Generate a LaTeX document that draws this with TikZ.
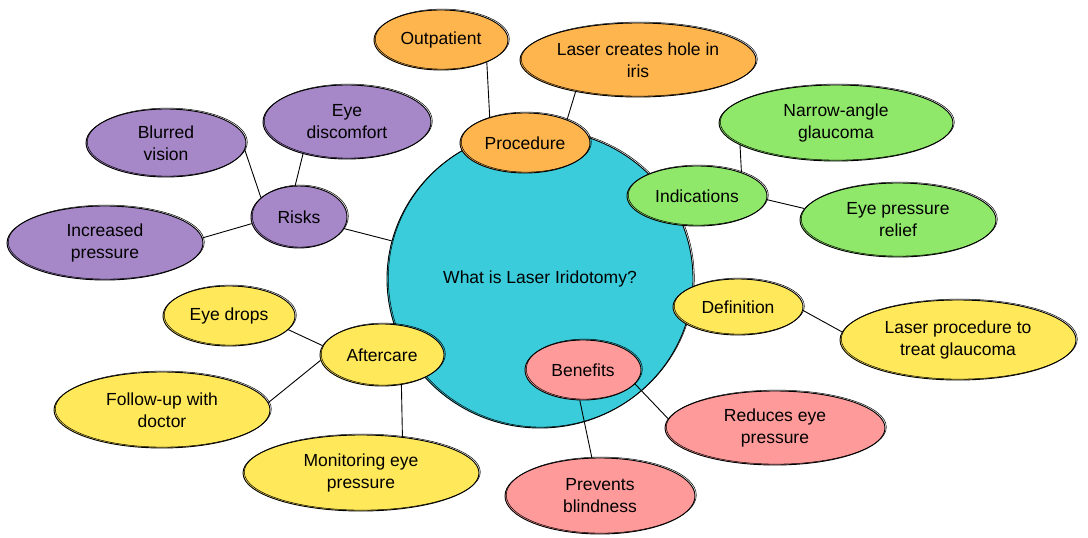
\documentclass[tikz,border=0pt]{standalone}
\usepackage{fontspec}
\setmainfont{Liberation Sans}
\usetikzlibrary{shapes.geometric}
\definecolor{cyanF}{HTML}{3ACCDB}
\definecolor{orangeF}{HTML}{FFB54D}
\definecolor{purpleF}{HTML}{A687C7}
\definecolor{greenF}{HTML}{8FE86A}
\definecolor{yellowF}{HTML}{FFE859}
\definecolor{pinkF}{HTML}{FF9A9A}
\begin{document}
\begin{tikzpicture}[x=1pt,y=-1pt,
  bub/.style={ellipse, draw=black, line width=0.9pt, inner sep=0pt, align=center,
    font=\fontsize{17.5}{22}\selectfont,
    postaction={draw=black, line width=0.5pt, transform canvas={xshift=1.3pt,yshift=0.9pt}}},
  conn/.style={draw=black, line width=0.9pt}]
\useasboundingbox (0,0) rectangle (1088,538);

\node[bub, fill=cyanF, minimum width=306pt, minimum height=298pt] (c) at (540,279) {What is Laser Iridotomy?};

\node[bub, fill=orangeF, minimum width=130pt, minimum height=60pt] (proc) at (525,143) {Procedure};
\node[bub, fill=orangeF, minimum width=134pt, minimum height=60pt] (outp) at (441,40) {Outpatient};
\node[bub, fill=orangeF, minimum width=236pt, minimum height=74pt] (hole) at (638,60) {Laser creates hole in\\iris};

\node[bub, fill=greenF, minimum width=140pt, minimum height=60pt] (ind) at (697,196) {Indications};
\node[bub, fill=greenF, minimum width=234pt, minimum height=76pt] (narrow) at (836,123) {Narrow-angle\\glaucoma};
\node[bub, fill=greenF, minimum width=196pt, minimum height=74pt] (relief) at (898,220) {Eye pressure\\relief};

\node[bub, fill=yellowF, minimum width=130pt, minimum height=56pt] (def) at (738,307) {Definition};
\node[bub, fill=yellowF, minimum width=236pt, minimum height=80pt] (lproc) at (958,340) {Laser procedure to\\treat glaucoma};

\node[bub, fill=pinkF, minimum width=116pt, minimum height=60pt] (ben) at (583,370) {Benefits};
\node[bub, fill=pinkF, minimum width=220pt, minimum height=74pt] (red) at (775,428) {Reduces eye\\pressure};
\node[bub, fill=pinkF, minimum width=190pt, minimum height=76pt] (prev) at (600,496) {Prevents\\blindness};

\node[bub, fill=yellowF, minimum width=124pt, minimum height=62pt] (aft) at (382,355) {Aftercare};
\node[bub, fill=yellowF, minimum width=132pt, minimum height=60pt] (drops) at (229,316) {Eye drops};
\node[bub, fill=yellowF, minimum width=216pt, minimum height=76pt] (follow) at (162,410) {Follow-up with\\doctor};
\node[bub, fill=yellowF, minimum width=236pt, minimum height=76pt] (mon) at (361,473) {Monitoring eye\\pressure};

\node[bub, fill=purpleF, minimum width=96pt, minimum height=62pt] (risks) at (299,217) {Risks};
\node[bub, fill=purpleF, minimum width=160pt, minimum height=68pt] (blur) at (166,143) {Blurred\\vision};
\node[bub, fill=purpleF, minimum width=168pt, minimum height=74pt] (disc) at (347,122) {Eye\\discomfort};
\node[bub, fill=purpleF, minimum width=196pt, minimum height=74pt] (incr) at (105,243) {Increased\\pressure};

\draw[conn] (outp.-26) -- (proc.144);
\draw[conn] (hole.207) -- (proc.29);
\draw[conn] (risks) -- (c);
\draw[conn] (blur.-5) -- (risks.153);
\draw[conn] (disc.216.5) -- (risks.97);
\draw[conn] (incr.3) -- (risks.188);
\draw[conn] (narrow.193.5) -- (ind.28);
\draw[conn] (ind.-3) -- (relief.173);
\draw[conn] (def.-3) -- (lproc.176);
\draw[conn] (ben.-15) -- (red.175);
\draw[conn] (ben.264) -- (prev.102.5);
\draw[conn] (drops.-13) -- (aft.171);
\draw[conn] (follow.4) -- (aft.185);
\draw[conn] (aft.-57.6) -- (mon.41);
\end{tikzpicture}
\end{document}
